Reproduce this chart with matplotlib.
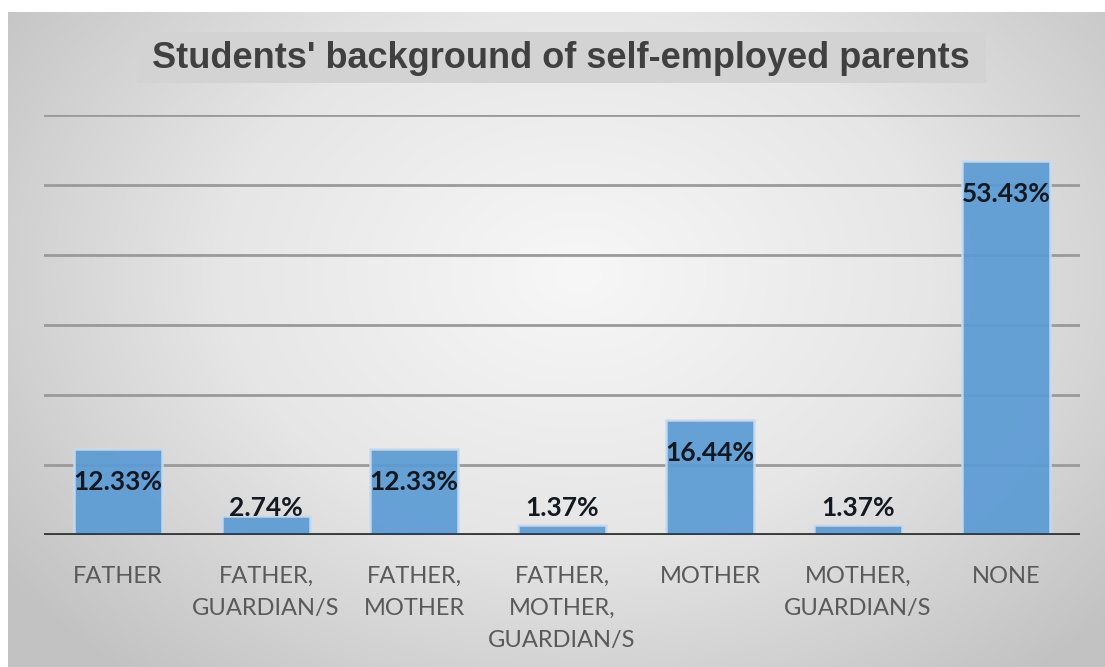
import numpy as np
import matplotlib.pyplot as plt
from matplotlib.colors import LinearSegmentedColormap
from matplotlib.patches import Rectangle

categories = ["FATHER", "FATHER,\nGUARDIAN/S", "FATHER,\nMOTHER",
              "FATHER,\nMOTHER,\nGUARDIAN/S", "MOTHER", "MOTHER,\nGUARDIAN/S", "NONE"]
percent = [12.33, 2.74, 12.33, 1.37, 16.44, 1.37, 53.43]
title = "Students' background of self-employed parents"

W, H = 1105, 667
fig = plt.figure(figsize=(W / 100, H / 100), dpi=100)
fig.patch.set_facecolor("white")

# radial grey gradient behind the whole chart
bg = fig.add_axes([8 / W, 0, 1 - 8 / W, (H - 12) / H])
yy, xx = np.mgrid[0:1:400j, 0:1:700j]
r = np.sqrt(((xx - 0.52) / 0.65) ** 2 + ((yy - 0.6) / 0.8) ** 2)
cmap = LinearSegmentedColormap.from_list("bg", ["#f7f7f7", "#e6e6e6", "#c2c2c2"])
bg.imshow(np.clip(r, 0, 1), cmap=cmap, aspect="auto", extent=[0, 1, 0, 1], origin="lower")
bg.set_axis_off()

ax = fig.add_axes([44 / W, (H - 535) / H, (1080 - 44) / W, 420 / H])
ax.patch.set_alpha(0)
x = np.arange(len(categories))

ax.set_ylim(0, 60)
ax.set_xlim(-0.5, len(categories) - 0.5)
ax.set_yticks(np.arange(10, 61, 10))
ax.yaxis.grid(True, color="#9a9a9a", linewidth=2)
ax.set_axisbelow(True)
for s in ax.spines.values():
    s.set_visible(False)
ax.axhline(0, color="#3a3a3a", linewidth=3.5, zorder=3)

ax.bar(x, percent, width=0.6, color="#5b9bd5", alpha=0.92,
       edgecolor="#c5dcf1", linewidth=1.8, zorder=2)

# data labels: inside the top of the bar, or just above short bars
for xi, v in zip(x, percent):
    ax.text(xi, max(v - 4.7, 3.9), f"{v:.2f}%", ha="center", va="center",
            fontsize=19, fontweight="bold", family="Lato", color="#141820", zorder=4)

ax.set_xticks(x)
ax.set_xticklabels(categories, fontsize=17, family="Lato", color="#595959",
                   linespacing=1.65, va="top")
ax.tick_params(axis="x", length=0, pad=22)
ax.tick_params(axis="y", length=0, labelleft=False)

fig.add_artist(Rectangle((137 / W, 1 - 83 / H), 849 / W, 51 / H,
                         transform=fig.transFigure, facecolor="#d3d3d3",
                         edgecolor="none"))
fig.text(561 / W, 1 - 58 / H, title, ha="center", va="center",
         fontsize=26, fontweight="bold", family="Liberation Sans", color="#404040")

fig.savefig("out.png", dpi=100)
